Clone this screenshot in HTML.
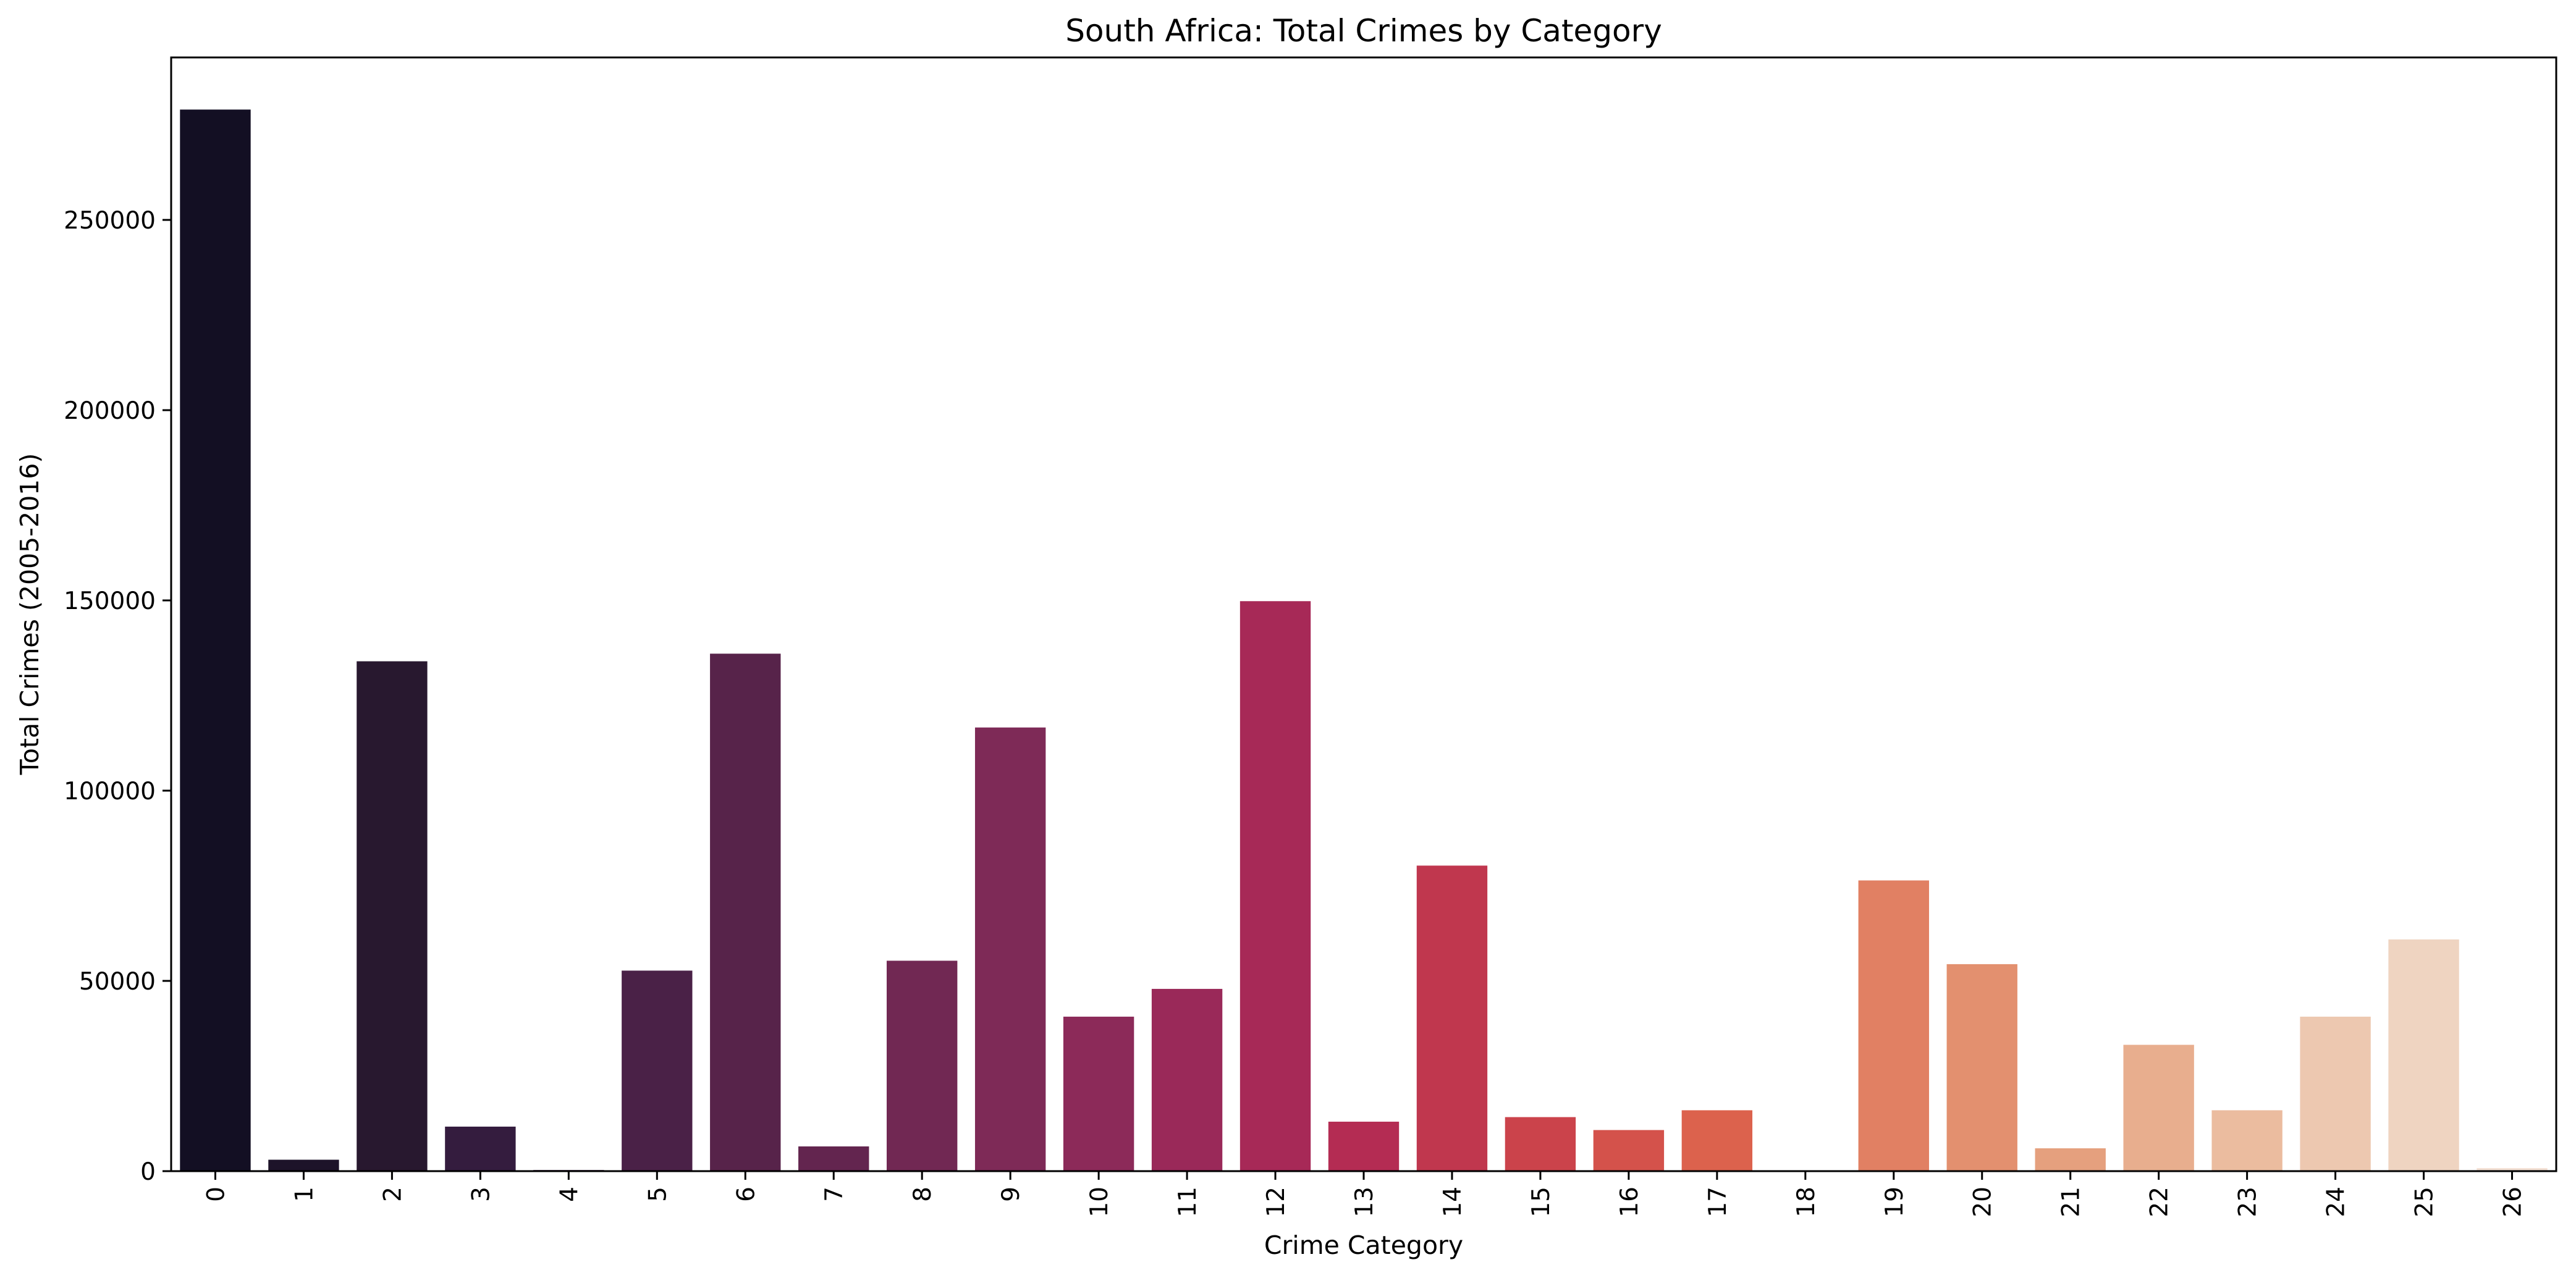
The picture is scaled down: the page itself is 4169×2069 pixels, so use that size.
<!DOCTYPE html>
<html><head><meta charset="utf-8"><style>
html,body{margin:0;padding:0;background:#fff}
svg{display:block;font-family:"DejaVu Sans","Liberation Sans",sans-serif}
</style></head><body>
<svg id="chart" width="4169" height="2069" viewBox="0 0 4169 2069" xmlns="http://www.w3.org/2000/svg">
<rect x="0" y="0" width="4169" height="2069" fill="#fff"/>
<text x="2207" y="67" font-size="50" text-anchor="middle">South Africa: Total Crimes by Category</text>
<text transform="translate(62,994) rotate(-90)" font-size="41" text-anchor="middle">Total Crimes (2005-2016)</text>
<text x="2207" y="2030" font-size="41" text-anchor="middle">Crime Category</text>
<g id="bars"></g><g id="axes"></g>
<rect x="277" y="93" width="3860" height="1803" fill="none" stroke="#000" stroke-width="3"/>
</svg>
<script>
const categories=["0","1","2","3","4","5","6","7","8","9","10","11","12","13","14","15","16","17","18","19","20","21","22","23","24","25","26"];
const values=[279000,3000,134000,11700,300,52700,136000,6500,55300,116600,40600,47900,149800,13000,80300,14200,10800,16000,200,76400,54400,6000,33200,16000,40600,60900,800];
const yTicks=[0,50000,100000,150000,200000,250000];
const colors=["#130f23","#1d1329","#28182f","#341c3e","#3e1f43","#4a2147","#57234a","#63254f","#712853","#7e2a57","#8c2a59","#9a2959","#a72957","#b42c53","#c0374e","#cb434b","#d4524b","#dc624d","#e07158","#e18063","#e3906f","#e5a07e","#e8ae8e","#ebbc9f","#edc8b0","#efd4c1","#f3e0d3"];
const L=277,R=4137,T=93,B=1896,yMax=292700;
const NS="http://www.w3.org/2000/svg";
const slot=(R-L)/categories.length;
function xc(i){return L+slot*(i+0.5);}
function y(v){return B-(v/yMax)*(B-T);}
const bars=document.getElementById('bars'),axes=document.getElementById('axes');
categories.forEach((c,i)=>{
  const r=document.createElementNS(NS,'rect');
  
  
  const w=slot*0.8;
  r.setAttribute('x',xc(i)-w/2);r.setAttribute('width',w);
  r.setAttribute('y',y(values[i]));r.setAttribute('height',B-y(values[i]));
  r.setAttribute('fill',colors[i]);bars.appendChild(r);
  const t=document.createElementNS(NS,'line');
  
  
  t.setAttribute('x1',xc(i));t.setAttribute('x2',xc(i));t.setAttribute('y1',B);t.setAttribute('y2',B+14);
  t.setAttribute('stroke','#000');t.setAttribute('stroke-width','3');axes.appendChild(t);
  const l=document.createElementNS(NS,'text');
  
  
  l.setAttribute('transform','translate('+(xc(i)+14)+','+(B+25)+') rotate(-90)');
  l.setAttribute('text-anchor','end');l.setAttribute('font-size','39');
  l.textContent=c;axes.appendChild(l);
});
yTicks.forEach(v=>{
  const t=document.createElementNS(NS,'line');
  
  
  t.setAttribute('x1',L-14);t.setAttribute('x2',L);t.setAttribute('y1',y(v));t.setAttribute('y2',y(v));
  t.setAttribute('stroke','#000');t.setAttribute('stroke-width','3');axes.appendChild(t);
  const l=document.createElementNS(NS,'text');
  
  
  l.setAttribute('x',L-25);l.setAttribute('y',y(v)+14);
  l.setAttribute('text-anchor','end');l.setAttribute('font-size','39');
  l.textContent=String(v);axes.appendChild(l);
});
</script>
</body></html>
